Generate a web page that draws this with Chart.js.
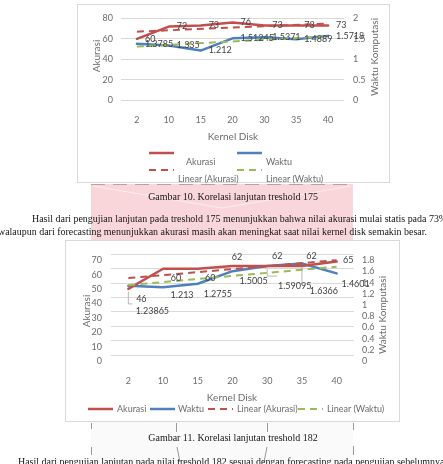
<!DOCTYPE html>
<html><head><meta charset="utf-8">
<script src="https://cdn.jsdelivr.net/npm/chart.js@4.4.1/dist/chart.umd.min.js"></script>
<style>
html,body{margin:0;padding:0;background:#fff;width:443px;height:464px;overflow:hidden;position:relative;font-family:Lato,sans-serif;}
.abs{position:absolute;}
.frame{position:absolute;border:1px solid #d9d9d9;box-sizing:border-box;background:#fff;}
.serif{position:absolute;font-family:"Liberation Serif","Times New Roman",serif;color:#141414;white-space:nowrap;font-size:10.5px;line-height:14px;height:14px;}
.serif.c{width:300px;text-align:center;}
.rot{position:absolute;transform:rotate(-90deg);white-space:nowrap;font-size:10px;color:#6b6b6b;line-height:12px;height:12px;width:100px;text-align:center;}
.ctr{position:absolute;white-space:nowrap;font-size:10px;color:#6b6b6b;line-height:12px;height:12px;width:100px;text-align:center;will-change:transform;transform:translateZ(0);}
.leg{position:absolute;font-size:9px;color:#6b6b6b;white-space:nowrap;line-height:12px;height:12px;will-change:transform;transform:translateZ(0);}
canvas{position:absolute;}
</style></head>
<body>
<script>
// ---- data ----
const kernelDisk = ['2','10','15','20','30','35','40'];
// Chart 1 : treshold 175
const akurasi175 = [60, 72, 73, 76, 73, 73, 73];
const waktu175 = [1.3785, 1.335, 1.212, 1.51245, 1.5371, 1.4889, 1.5718];
const trendAkurasi175 = [67, null, null, null, null, null, 75];
const trendWaktu175 = [1.31, null, null, null, null, null, 1.56];
// Chart 2 : treshold 182
const akurasi182 = [46, 60, 60, 62, 62, 62, 65];
const waktu182 = [1.23865, 1.213, 1.2755, 1.5005, 1.59095, 1.6366, 1.4601];
const trendAkurasi182 = [53.5, null, null, null, null, null, 66];
const trendWaktu182 = [1.25, null, null, null, null, null, 1.58];
</script>

<svg class="abs" style="left:0;top:0" width="443" height="464">
  <rect x="91" y="184" width="262" height="56" fill="#f9d6d9"/>
  <line x1="91" y1="184.5" x2="353" y2="184.5" stroke="#9a8c8e" stroke-width="1" stroke-dasharray="14 8" opacity="0.7"/>
  <polyline points="93,186 222,208 351,186" fill="none" stroke="#fdeef0" stroke-width="1"/>
  <rect x="91" y="422" width="262" height="42" fill="#fafafa"/>
  <g stroke="#9a9a9a" stroke-width="1">
    <line x1="91.5" y1="423" x2="91.5" y2="429"/><line x1="91.5" y1="447" x2="91.5" y2="455"/>
    <line x1="176.5" y1="423" x2="176.5" y2="432"/><line x1="177" y1="447" x2="180" y2="462"/>
    <line x1="267.5" y1="423" x2="267.5" y2="432"/><line x1="267" y1="447" x2="264" y2="462"/>
    <line x1="353.5" y1="423" x2="353.5" y2="430"/><line x1="353.5" y1="446" x2="353.5" y2="455"/>
  </g>
</svg>

<div class="frame" style="left:77px;top:4px;width:313px;height:179px;"></div>
<canvas id="c1" width="313" height="125" style="left:77px;top:4px;"></canvas>
<div class="rot" style="left:46px;top:50px;">Akurasi</div>
<div class="rot" style="left:324px;top:51px;">Waktu Komputasi</div>
<div class="ctr" style="left:183px;top:130px;">Kernel Disk</div>
<svg class="abs" style="left:0;top:0" width="443" height="190">
  <line x1="149" y1="153" x2="174" y2="153" stroke="#c0504d" stroke-width="2.5"/>
  <line x1="237" y1="153" x2="262" y2="153" stroke="#4f81bd" stroke-width="2.5"/>
  <line x1="149" y1="170" x2="174" y2="170" stroke="#c0504d" stroke-width="2" stroke-dasharray="7 5"/>
  <line x1="237" y1="170" x2="262" y2="170" stroke="#9bbb59" stroke-width="2" stroke-dasharray="7 5"/>
</svg>
<div class="leg" style="left:186px;top:156px;">Akurasi</div>
<div class="leg" style="left:266px;top:156px;">Waktu</div>
<div class="leg" style="left:178px;top:173px;">Linear (Akurasi)</div>
<div class="leg" style="left:266px;top:173px;">Linear (Waktu)</div>

<div class="serif c" style="left:83px;top:190px;">Gambar 10. Korelasi lanjutan treshold 175</div>
<div class="serif" style="left:32px;top:212px;">Hasil dari pengujian lanjutan pada treshold 175 menunjukkan bahwa nilai akurasi mulai statis pada 73%</div>
<div class="serif" style="left:-2px;top:225px;">walaupun dari forecasting menunjukkan akurasi masih akan meningkat saat nilai kernel disk semakin besar.</div>

<div class="frame" style="left:65px;top:240px;width:335px;height:182px;"></div>
<canvas id="c2" width="335" height="150" style="left:65px;top:240px;"></canvas>
<div class="rot" style="left:36px;top:305px;">Akurasi</div>
<div class="rot" style="left:332px;top:309px;">Waktu Komputasi</div>
<div class="ctr" style="left:182px;top:391px;">Kernel Disk</div>
<svg class="abs" style="left:0;top:380px" width="443" height="40">
  <line x1="88" y1="29" x2="113" y2="29" stroke="#c0504d" stroke-width="2.5"/>
  <line x1="150" y1="29" x2="175" y2="29" stroke="#4f81bd" stroke-width="2.5"/>
  <line x1="208" y1="29" x2="233" y2="29" stroke="#c0504d" stroke-width="2" stroke-dasharray="7 5"/>
  <line x1="298" y1="29" x2="323" y2="29" stroke="#9bbb59" stroke-width="2" stroke-dasharray="7 5"/>
</svg>
<div class="leg" style="left:117px;top:403px;">Akurasi</div>
<div class="leg" style="left:178px;top:403px;">Waktu</div>
<div class="leg" style="left:237px;top:403px;">Linear (Akurasi)</div>
<div class="leg" style="left:327px;top:403px;">Linear (Waktu)</div>

<div class="serif c" style="left:83px;top:431px;">Gambar 11. Korelasi lanjutan treshold 182</div>
<div class="serif" style="left:18px;top:455px;">Hasil dari pengujian lanjutan pada nilai treshold 182 sesuai dengan forecasting pada pengujian sebelumnya</div>

<script>
// fit serif size to caption width measured in reference
(function(){
  const c = document.createElement('canvas').getContext('2d');
  c.font = '10px "Liberation Serif"';
  const w = c.measureText('Gambar 10. Korelasi lanjutan treshold 175').width;
  const fs = 10 * 170 / w;
  document.querySelectorAll('.serif').forEach(e => e.style.fontSize = fs + 'px');
})();

const RED = '#c0504d', BLUE = '#4f81bd', GREEN = '#9bbb59';
const TICK = '#6b6b6b', LABEL = '#404040', GRID = '#d9d9d9';
const fmt = v => String(+Number(v).toFixed(3));

const labelPlugin = {
  id: 'dl',
  afterDatasetsDraw(chart, args, opts) {
    const ctx = chart.ctx;
    ctx.save();
    ctx.font = '9px Lato';
    ctx.fillStyle = LABEL;
    ctx.textBaseline = 'middle';
    (opts.sets || []).forEach(cfg => {
      const meta = chart.getDatasetMeta(cfg.index);
      const ds = chart.data.datasets[cfg.index];
      meta.data.forEach((pt, i) => {
        const v = ds.data[i];
        if (v == null) return;
        const off = cfg.offsets ? cfg.offsets[i] : cfg.offset;
        const ld = cfg.leaders && cfg.leaders[i];
        if (ld) {
          ctx.save();
          ctx.strokeStyle = '#a6a6a6'; ctx.lineWidth = 0.8;
          ctx.beginPath();
          ctx.moveTo(pt.x, pt.y + 3);
          ctx.lineTo(pt.x, pt.y + ld[1]);
          ctx.lineTo(pt.x + ld[0], pt.y + ld[1]);
          ctx.stroke();
          ctx.restore();
        }
        ctx.textAlign = cfg.align || 'center';
        ctx.fillText(String(v), pt.x + off[0], pt.y + off[1]);
      });
    });
    ctx.restore();
  }
};

function lineDs(data, color, axis, dashed) {
  return {
    data, yAxisID: axis, borderColor: color, backgroundColor: color,
    borderWidth: dashed ? 2 : 2.5, borderDash: dashed ? [7, 5] : [],
    pointRadius: 0, tension: 0, spanGaps: true, order: dashed ? 0 : 1,
    borderJoinStyle: 'round', borderCapStyle: dashed ? 'butt' : 'round', fill: false
  };
}

function makeChart(id, cfg) {
  return new Chart(document.getElementById(id), {
    type: 'line',
    data: {
      labels: kernelDisk,
      datasets: [
        lineDs(cfg.ak, RED, 'y', false),
        lineDs(cfg.wk, BLUE, 'y1', false),
        lineDs(cfg.tak, RED, 'y', true),
        lineDs(cfg.twk, GREEN, 'y1', true)
      ]
    },
    options: {
      responsive: false, animation: false, devicePixelRatio: 1,
      layout: { padding: { top: 11, left: 0, right: 0, bottom: 0 } },
      plugins: { legend: { display: false }, tooltip: { enabled: false }, dl: { sets: cfg.labels } },
      scales: {
        x: {
          offset: true,
          grid: { display: false, drawTicks: false }, border: { display: false },
          ticks: { padding: cfg.xPad, color: TICK, font: { family: 'Lato', size: 9 }, maxRotation: 0, autoSkip: false },
          afterFit(s) { s.height = cfg.xH; }
        },
        y: {
          position: 'left', min: 0, max: cfg.yMax,
          grid: { color: GRID, drawTicks: false, lineWidth: 1 }, border: { display: false },
          ticks: { stepSize: cfg.yStep, padding: cfg.yPad, color: TICK, font: { family: 'Lato', size: 9 }, labelOffset: cfg.lblOff, autoSkip: false, callback: fmt },
          afterFit(s) { s.width = cfg.yW; }
        },
        y1: {
          position: 'right', min: 0, max: cfg.y1Max,
          grid: { display: false, drawTicks: false }, border: { display: false },
          ticks: { stepSize: cfg.y1Step, padding: cfg.y1Pad, color: TICK, font: { family: 'Lato', size: 9 }, labelOffset: cfg.lblOff, autoSkip: false, callback: fmt },
          afterFit(s) { s.width = cfg.y1W; }
        }
      }
    },
    plugins: [labelPlugin]
  });
}

makeChart('c1', {
  ak: akurasi175, wk: waktu175, tak: trendAkurasi175, twk: trendWaktu175,
  yMax: 80, yStep: 20, y1Max: 2, y1Step: 0.5,
  xPad: 15, xH: 29, yW: 44, y1W: 46, yPad: 8, y1Pad: 9, lblOff: 0,
  labels: [
    { index: 0, align: 'left', offset: [8, 0] },
    { index: 1, align: 'left', offset: [8, 0] }
  ]
});

makeChart('c2', {
  ak: akurasi182, wk: waktu182, tak: trendAkurasi182, twk: trendWaktu182,
  yMax: 70, yStep: 10, y1Max: 1.8, y1Step: 0.2,
  xPad: 21, xH: 35, yW: 46, y1W: 46, yPad: 9, y1Pad: 8, lblOff: 6,
  labels: [
    { index: 0, align: 'center',
      offsets: [[13, 10], [13, 9], [12.5, 9], [4.5, -9], [10, -10], [9.5, -10], [11.5, -1.5]],
      leaders: { 0: [4, 15] } },
    { index: 1, align: 'center',
      offsets: [[24, 25.5], [19, 8], [20, 10], [21, 10], [27.5, 20], [22, 27.5], [19, 10.5]],
      leaders: { 4: [10, 10], 5: [0, 20] } }
  ]
});
</script>
</body></html>
